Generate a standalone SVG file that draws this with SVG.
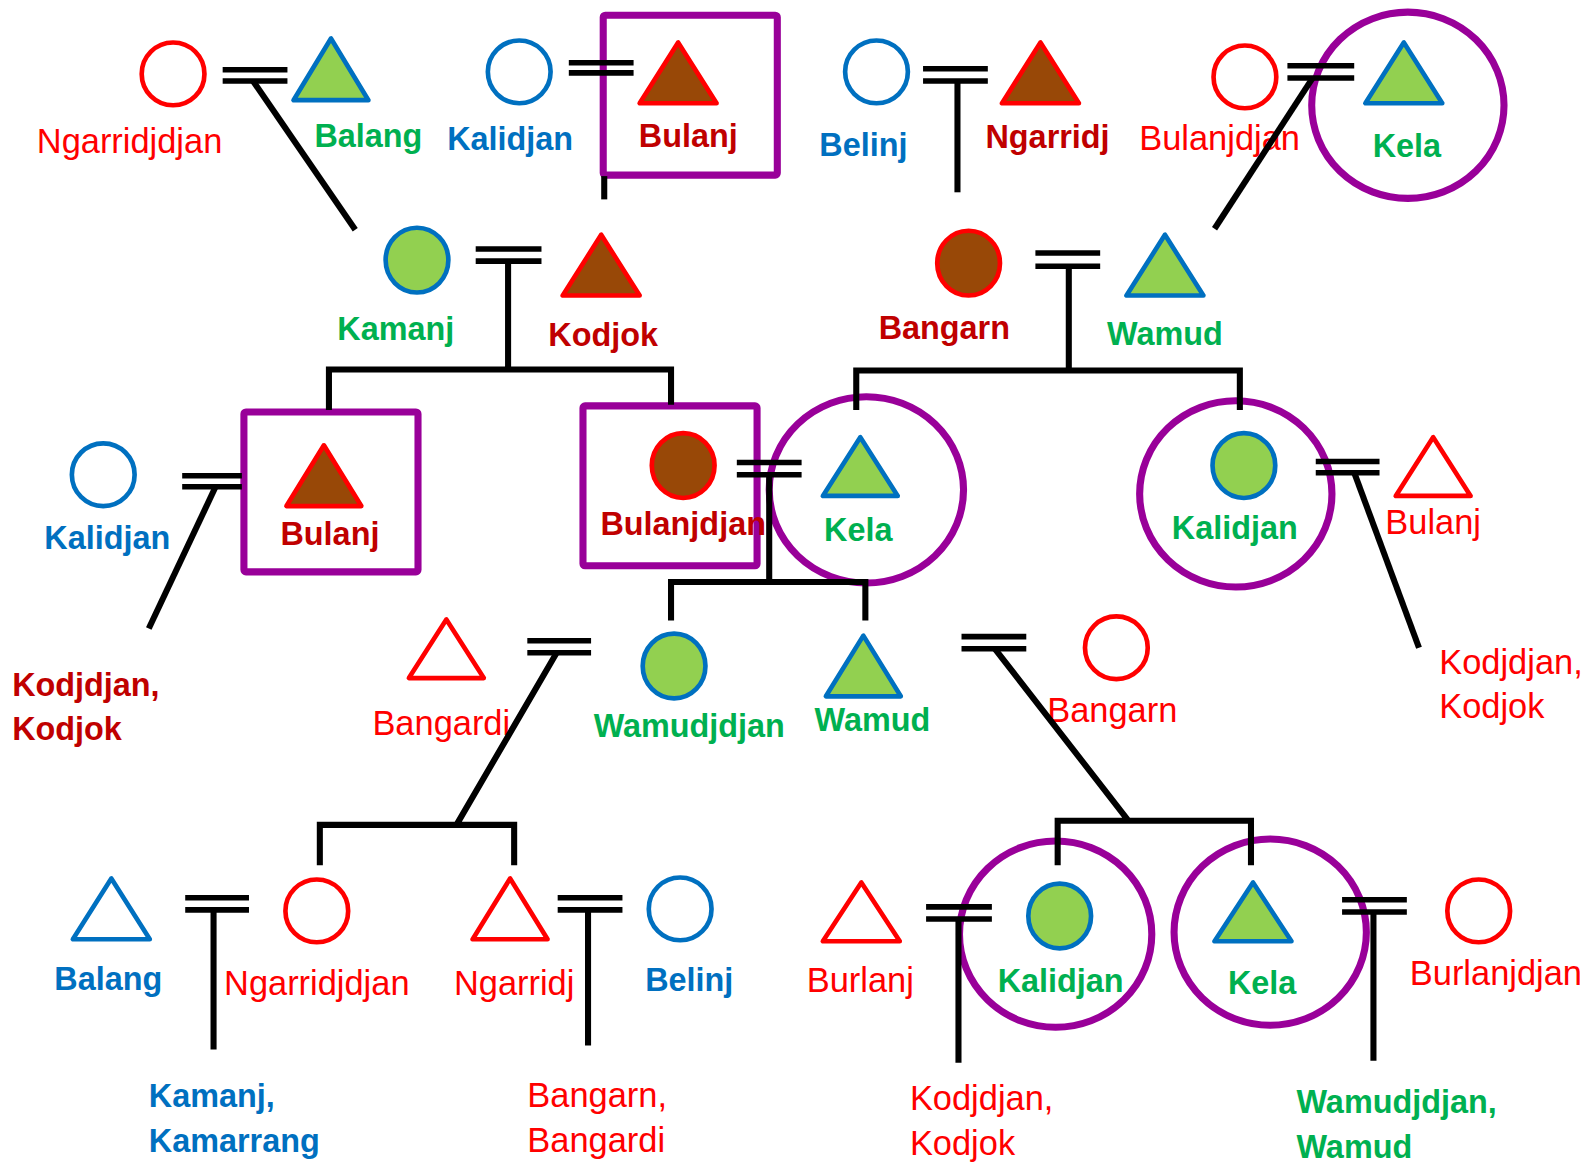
<svg xmlns="http://www.w3.org/2000/svg" width="1587" height="1163" viewBox="0 0 1587 1163">
<style>
.ln{stroke:#000;stroke-width:6;fill:none;stroke-linejoin:miter}
.eq{stroke:#000;stroke-width:5.5;fill:none}
.hr{fill:#fff;stroke:#FF0000;stroke-width:4.6;stroke-linejoin:round}
.hb{fill:#fff;stroke:#0070C0;stroke-width:4.6;stroke-linejoin:round}
.gr{fill:#92D050;stroke:#0070C0;stroke-width:4.6;stroke-linejoin:round}
.br{fill:#984807;stroke:#FF0000;stroke-width:4.6;stroke-linejoin:round}
.pu{fill:none;stroke:#990099;stroke-width:7}
text{font-family:"Liberation Sans",Arial,sans-serif;text-anchor:middle}
.r{font-size:34px;fill:#FF0000}
.dr{font-size:32px;font-weight:bold;fill:#C00000}
.g{font-size:32px;font-weight:bold;fill:#00B050}
.b{font-size:32px;font-weight:bold;fill:#0070C0}
.l{text-anchor:start}
</style>
<rect width="1587" height="1163" fill="#fff"/>
<g transform="scale(1.01212)">
<g id="nodes">
<g id="n-ngarridjdjan-1"><ellipse class="hr" cx="171" cy="73" rx="31" ry="31"/><text class="r" x="128" y="151">Ngarridjdjan</text></g>
<g id="n-balang-1"><polygon class="gr" points="327,38 290,99 364,99"/><text class="g" x="364" y="145">Balang</text></g>
<g id="n-kalidjan-1"><ellipse class="hb" cx="513" cy="71" rx="31" ry="31"/><text class="b" x="504" y="148">Kalidjan</text></g>
<g id="n-bulanj-1"><polygon class="br" points="670,42 632,102 708,102"/><text class="dr" x="680" y="145">Bulanj</text><rect class="pu" x="596" y="15" width="172" height="158" rx="2"/></g>
<g id="n-belinj-1"><ellipse class="hb" cx="866" cy="71" rx="31" ry="31"/><text class="b" x="853" y="154">Belinj</text></g>
<g id="n-ngarridj-1"><polygon class="br" points="1028,42 990,102 1066,102"/><text class="dr" x="1035" y="146">Ngarridj</text></g>
<g id="n-bulanjdjan-1"><ellipse class="hr" cx="1230" cy="76" rx="31" ry="31"/><text class="r" x="1205" y="148">Bulanjdjan</text></g>
<g id="n-kela-1"><polygon class="gr" points="1387,42 1349,102 1425,102"/><text class="g" x="1390" y="155">Kela</text><ellipse class="pu" cx="1391" cy="104" rx="95" ry="92"/></g>

<g id="n-kamanj-2"><ellipse class="gr" cx="412" cy="257" rx="31" ry="32"/><text class="g" x="391" y="336">Kamanj</text></g>
<g id="n-kodjok-2"><polygon class="br" points="594,232 556,292 632,292"/><text class="dr" x="596" y="342">Kodjok</text></g>
<g id="n-bangarn-2"><ellipse class="br" cx="957" cy="260" rx="31" ry="32"/><text class="dr" x="933" y="335">Bangarn</text></g>
<g id="n-wamud-2"><polygon class="gr" points="1151,232 1113,292 1189,292"/><text class="g" x="1151" y="341">Wamud</text></g>

<g id="n-kalidjan-3a"><ellipse class="hb" cx="102" cy="469" rx="31" ry="31"/><text class="b" x="106" y="542">Kalidjan</text></g>
<g id="n-bulanj-3a"><polygon class="br" points="320,440 283,500 357,500"/><text class="dr" x="326" y="538">Bulanj</text><rect class="pu" x="241" y="407" width="172" height="158" rx="2"/></g>
<g id="n-bulanjdjan-3"><ellipse class="br" cx="675" cy="460" rx="31" ry="32"/><rect class="pu" x="576" y="401" width="172" height="158" rx="2"/><text class="dr" x="675" y="529">Bulanjdjan</text></g>
<g id="n-kela-3"><polygon class="gr" points="850,432 813,490 887,490"/><text class="g" x="848" y="535">Kela</text><ellipse class="pu" cx="856" cy="484" rx="96" ry="92"/></g>
<g id="n-kalidjan-3b"><ellipse class="gr" cx="1229" cy="460" rx="31" ry="32"/><text class="g" x="1220" y="533">Kalidjan</text><ellipse class="pu" cx="1221" cy="488" rx="95" ry="92"/></g>
<g id="n-bulanj-3b"><polygon class="hr" points="1416,432 1379,490 1453,490"/><text class="r" x="1416" y="528">Bulanj</text></g>
<g id="t-kodjdjan-r"><text class="r l" x="1422" y="666">Kodjdjan,</text><text class="r l" x="1422" y="709">Kodjok</text></g>
<g id="t-kodjdjan-l"><text class="dr l" x="12" y="688">Kodjdjan,</text><text class="dr l" x="12" y="731">Kodjok</text></g>

<g id="n-bangardi-4"><polygon class="hr" points="441,612 404,670 478,670"/><text class="r" x="436" y="726">Bangardi</text></g>
<g id="n-wamudjdjan-4"><ellipse class="gr" cx="666" cy="658" rx="31" ry="32"/><text class="g" x="681" y="728">Wamudjdjan</text></g>
<g id="n-wamud-4"><polygon class="gr" points="853,628 816,688 890,688"/><text class="g" x="862" y="722">Wamud</text></g>
<g id="n-bangarn-4"><ellipse class="hr" cx="1103" cy="640" rx="31" ry="31"/><text class="r" x="1099" y="713">Bangarn</text></g>

<g id="n-balang-5"><polygon class="hb" points="110,868 72,928 148,928"/><text class="b" x="107" y="978">Balang</text></g>
<g id="n-ngarridjdjan-5"><ellipse class="hr" cx="313" cy="900" rx="31" ry="31"/><text class="r" x="313" y="983">Ngarridjdjan</text></g>
<g id="n-ngarridj-5"><polygon class="hr" points="504,868 467,928 541,928"/><text class="r" x="508" y="983">Ngarridj</text></g>
<g id="n-belinj-5"><ellipse class="hb" cx="672" cy="898" rx="31" ry="31"/><text class="b" x="681" y="979">Belinj</text></g>
<g id="t-kamanj"><text class="b l" x="147" y="1094">Kamanj,</text><text class="b l" x="147" y="1138">Kamarrang</text></g>
<g id="t-bangarn"><text class="r l" x="521" y="1094">Bangarn,</text><text class="r l" x="521" y="1138">Bangardi</text></g>
<g id="n-burlanj-5"><polygon class="hr" points="851,872 813,930 889,930"/><text class="r" x="850" y="980">Burlanj</text></g>
<g id="n-kalidjan-5"><ellipse class="gr" cx="1047" cy="905" rx="31" ry="32"/><text class="g" x="1048" y="980">Kalidjan</text><ellipse class="pu" cx="1043" cy="923" rx="95" ry="92"/></g>
<g id="n-kela-5"><polygon class="gr" points="1238,872 1200,930 1276,930"/><text class="g" x="1247" y="982">Kela</text><ellipse class="pu" cx="1255" cy="921" rx="95" ry="92"/></g>
<g id="n-burlanjdjan-5"><ellipse class="hr" cx="1461" cy="900" rx="31" ry="31"/><text class="r" x="1478" y="973">Burlanjdjan</text></g>
<g id="t-kodjdjan-b"><text class="r l" x="899" y="1097">Kodjdjan,</text><text class="r l" x="899" y="1141">Kodjok</text></g>
<g id="t-wamudjdjan-b"><text class="g l" x="1281" y="1100">Wamudjdjan,</text><text class="g l" x="1281" y="1144">Wamud</text></g>
</g>

<g id="connectors">
<path class="eq" d="M220,69H284M220,80H284"/><path class="ln" d="M250,80L351,227"/>
<path class="eq" d="M562,62H626M562,72H626"/><path class="ln" d="M597,174V197"/>
<path class="eq" d="M912,68H976M912,80H976"/><path class="ln" d="M946,80V190"/>
<path class="eq" d="M1272,65H1338M1272,77H1338"/><path class="ln" d="M1297,77L1200,226"/>
<path class="eq" d="M470,246H535M470,258H535"/><path class="ln" d="M502,258V365M325,405V365H663V400"/>
<path class="eq" d="M1023,250H1087M1023,263H1087"/><path class="ln" d="M1056,263V366M846,405V366H1225V405"/>
<path class="eq" d="M180,470H239M180,481H239"/><path class="ln" d="M213,481L147,621"/>
<path class="eq" d="M728,457H792M728,469H792"/><path class="ln" d="M760,469V575M663,613V575H855V613"/>
<path class="eq" d="M1300,456H1363M1300,467H1363"/><path class="ln" d="M1338,467L1402,640"/>
<path class="eq" d="M521,633H584M521,645H584"/><path class="ln" d="M550,645L451,815M316,855V815H508V855"/>
<path class="eq" d="M950,629H1014M950,641H1014"/><path class="ln" d="M983,641L1115,811M1045,855V811H1236V855"/>
<path class="eq" d="M183,887H246M183,899H246"/><path class="ln" d="M211,899V1037"/>
<path class="eq" d="M551,887H615M551,899H615"/><path class="ln" d="M581,899V1033"/>
<path class="eq" d="M915,896H980M915,908H980"/><path class="ln" d="M947,908V1050"/>
<path class="eq" d="M1326,889H1390M1326,901H1390"/><path class="ln" d="M1357,901V1048"/>
</g>
</g>
</svg>
